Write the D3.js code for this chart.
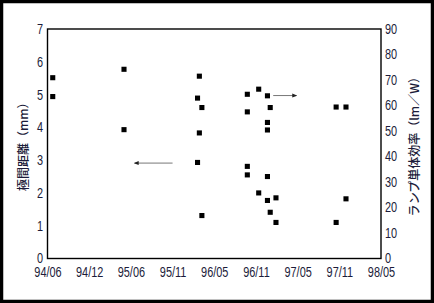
<!DOCTYPE html>
<html>
<head>
<meta charset="utf-8">
<script src="https://cdn.jsdelivr.net/npm/d3@7"></script>
<style>
  body { margin: 0; background: #fff; }
  svg { display: block; }
</style>
</head>
<body>
<div id="chart"></div>
<script>
const width = 434
const height = 303
const margin = { top: 29, right: 53, bottom: 44.5, left: 47.5 }

// tick labels (evenly spaced on the axis even though months are not)
const xTicks = ["94/06", "94/12", "95/06", "95/11", "96/05", "96/11", "97/05", "97/11", "98/05"]
const gapTicks = [0, 1, 2, 3, 4, 5, 6, 7]
const effTicks = [0, 10, 20, 30, 40, 50, 60, 70, 80, 90]

// lamp efficiency (lm/W), right axis
const effDates = ["1994-06-24", "1994-06-24", "1995-05-02", "1996-02-26", "1996-02-18", "1996-03-08", "1996-09-24",
    "1996-11-13", "1996-12-21", "1997-01-02", "1996-09-24", "1997-10-18", "1997-11-30"]
const effValues = [70.9, 63.5, 74.2, 71.5, 62.9, 59.2, 64.4, 66.4, 63.8, 59.2, 57.5, 59.4, 59.4]

// electrode gap (mm), left axis
const gapDates = ["1995-05-02", "1996-02-26", "1996-02-18", "1996-03-08", "1996-12-21", "1996-12-21", "1996-09-24",
    "1996-09-24", "1996-12-21", "1996-11-13", "1996-12-21", "1997-01-27", "1997-01-02", "1997-01-27", "1997-10-18", "1997-11-30"]
const gapValues = [3.93, 3.83, 2.93, 1.31, 4.15, 3.92, 2.81, 2.55, 2.50, 2.00, 1.77, 1.85, 1.41, 1.10, 1.10, 1.82]

// arrows pointing to the axis of each series
const arrowGap = { from: "1995-11-01", to: "1995-06-15", value: 2.91 }
const arrowEff = { from: "1997-01-15", to: "1997-04-25", value: 63.9 }

const parse = d3.timeParse("%Y-%m-%d")
const tickParse = d3.timeParse("%y/%m")

const svg = d3.select("div#chart").append("svg").attr("width", width).attr("height", height)

svg.append("defs").append("filter").attr("id", "soft")
    .attr("x", "-50%").attr("y", "-50%").attr("width", "200%").attr("height", "200%")
    .append("feGaussianBlur").attr("stdDeviation", 0.7)
svg.select("defs").append("marker").attr("id", "head")
    .attr("viewBox", "0 0 10 10").attr("refX", 8).attr("refY", 5)
    .attr("markerWidth", 5).attr("markerHeight", 5).attr("orient", "auto")
    .append("path").attr("d", "M0,1L10,5L0,9Z").attr("fill", "#222")

// outer border
svg.append("rect").attr("x", 1.5).attr("y", 1.5).attr("width", width - 3).attr("height", height - 3)
    .attr("fill", "none").attr("stroke", "#000").attr("stroke-width", 3.5)

const innerW = width - margin.left - margin.right
const innerH = height - margin.top - margin.bottom
const step = innerW / (xTicks.length - 1)

const x = d3.scaleTime()
    .domain(xTicks.map(t => tickParse(t)))
    .range(xTicks.map((t, i) => i * step))
const yGap = d3.scaleLinear().domain([0, 7]).range([innerH, 0])
const yEff = d3.scaleLinear().domain([0, 90]).range([innerH, 0])

const g = svg.append("g").attr("transform", `translate(${margin.left}, ${margin.top})`)

const textColor = "#1c1c3a"
const font = "Liberation Sans, Arial, sans-serif"

const xAxis = d3.axisBottom(x).tickValues(xTicks.map(t => tickParse(t)))
    .tickFormat(d3.timeFormat("%y/%m")).tickSize(0).tickPadding(8.5)
const yAxisL = d3.axisLeft(yGap).tickValues(gapTicks).tickFormat(d3.format("d")).tickSize(0).tickPadding(4.5)
const yAxisR = d3.axisRight(yEff).tickValues(effTicks).tickFormat(d3.format("d")).tickSize(0).tickPadding(4)

const axes = [
    g.append("g").attr("transform", `translate(0, ${innerH})`).call(xAxis),
    g.append("g").call(yAxisL),
    g.append("g").attr("transform", `translate(${innerW}, 0)`).call(yAxisR),
]
axes.forEach(a => {
    a.select(".domain").remove()
    a.selectAll("text")
        .attr("font-family", font).attr("font-size", 14).attr("fill", textColor)
        .each(function () {
            const w = this.getComputedTextLength()
            d3.select(this).attr("textLength", w * 0.78).attr("lengthAdjust", "spacingAndGlyphs")
        })
})

// plot frame
g.append("rect").attr("width", innerW).attr("height", innerH)
    .attr("fill", "none").attr("stroke", "#000").attr("stroke-width", 1.4)

// axis titles
svg.append("text")
    .attr("transform", `translate(22, ${margin.top + innerH / 2}) rotate(-90)`)
    .attr("text-anchor", "middle").attr("dominant-baseline", "central")
    .attr("font-family", "Noto Sans CJK JP").attr("font-size", 12).attr("font-weight", 500)
    .attr("fill", textColor).text("極間距離（mm）")
svg.append("text")
    .attr("transform", `translate(413, ${margin.top + innerH / 2}) rotate(-90)`)
    .attr("text-anchor", "middle").attr("dominant-baseline", "central")
    .attr("font-family", "Noto Sans CJK JP").attr("font-size", 12).attr("font-weight", 500)
    .attr("fill", textColor).text("ランプ単体効率（lm／W）")

// arrows
const arrows = [
    { a: arrowGap, y: yGap },
    { a: arrowEff, y: yEff },
]
g.selectAll("line.arrow").data(arrows).enter()
    .append("line").attr("class", "arrow")
    .attr("x1", d => x(parse(d.a.from))).attr("x2", d => x(parse(d.a.to)))
    .attr("y1", d => d.y(d.a.value)).attr("y2", d => d.y(d.a.value))
    .attr("stroke", "#777").attr("stroke-width", 1)
    .attr("marker-end", "url(#head)")

// points
const gapData = gapDates.map((d, i) => ({ date: parse(d), value: gapValues[i] }))
const effData = effDates.map((d, i) => ({ date: parse(d), value: effValues[i] }))
const symbol = d3.symbol().type(d3.symbolSquare).size(26)

g.selectAll("path.gap").data(gapData).enter()
    .append("path").attr("class", "gap")
    .attr("d", symbol)
    .attr("transform", d => `translate(${x(d.date)}, ${yGap(d.value)})`)
    .attr("fill", "#000").attr("filter", "url(#soft)")

g.selectAll("path.eff").data(effData).enter()
    .append("path").attr("class", "eff")
    .attr("d", symbol)
    .attr("transform", d => `translate(${x(d.date)}, ${yEff(d.value)})`)
    .attr("fill", "#000").attr("filter", "url(#soft)")
</script>
</body>
</html>
